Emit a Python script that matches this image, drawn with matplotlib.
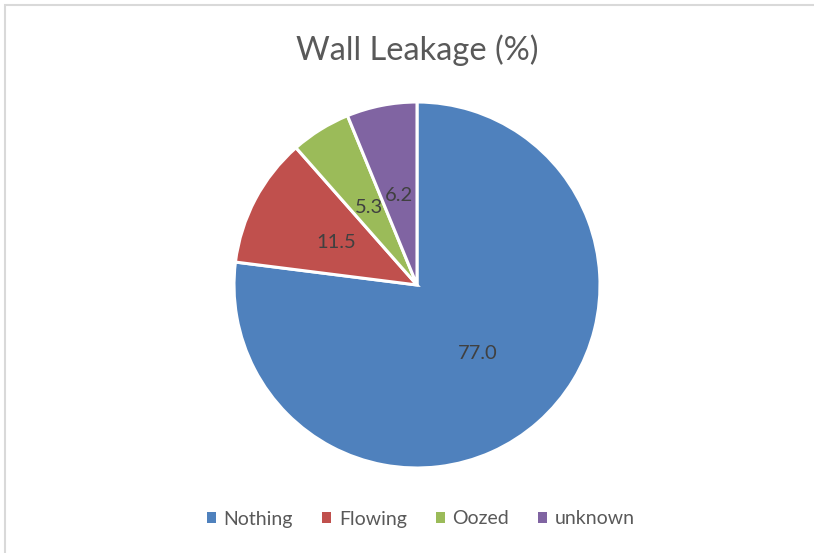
import matplotlib.pyplot as plt
from matplotlib.patches import Rectangle

plt.rcParams['font.family'] = ['Lato', 'DejaVu Sans']

# data
labels = ['Nothing', 'Flowing', 'Oozed', 'unknown']
values = [77.0, 11.5, 5.3, 6.2]
colors = ['#4F81BD', '#C0504D', '#9BBB59', '#8064A2']

fig = plt.figure(figsize=(8.14, 5.53), dpi=100)

# chart border (light gray, open at right/bottom like the screenshot)
fig.patches.append(Rectangle((5 / 814, -0.01), 1.0, 1 - 4.5 / 553 + 0.01,
                             transform=fig.transFigure, fill=False,
                             edgecolor='#d9d9d9', linewidth=1.5))

ax = fig.add_axes([(417 - 183) / 814, (553 - 468) / 553, 366 / 814, 366 / 553])
wedges, texts, autotexts = ax.pie(values, colors=colors, startangle=90, counterclock=False,
                                  radius=1, autopct='%.1f', pctdistance=0.5,
                                  wedgeprops=dict(edgecolor='white', linewidth=2.2),
                                  textprops=dict(color='#404040', fontsize=14.5))
ax.set_xlim(-1, 1)
ax.set_ylim(-1, 1)
ax.set_aspect('equal')
ax.axis('off')

fig.text(417 / 814, 1 - 50 / 553, 'Wall Leakage (%)', ha='center', va='center',
         fontsize=23.5, color='#595959')

leg = fig.legend(wedges, labels, loc='center', bbox_to_anchor=(421 / 814, 1 - 519 / 553),
                 ncol=4, frameon=False, fontsize=14, handlelength=0.45, handleheight=0.45,
                 handletextpad=0.4, columnspacing=1.5, labelcolor='#595959')
for h in leg.legend_handles:
    h.set_edgecolor('none')

plt.savefig('out.png', dpi=100)
